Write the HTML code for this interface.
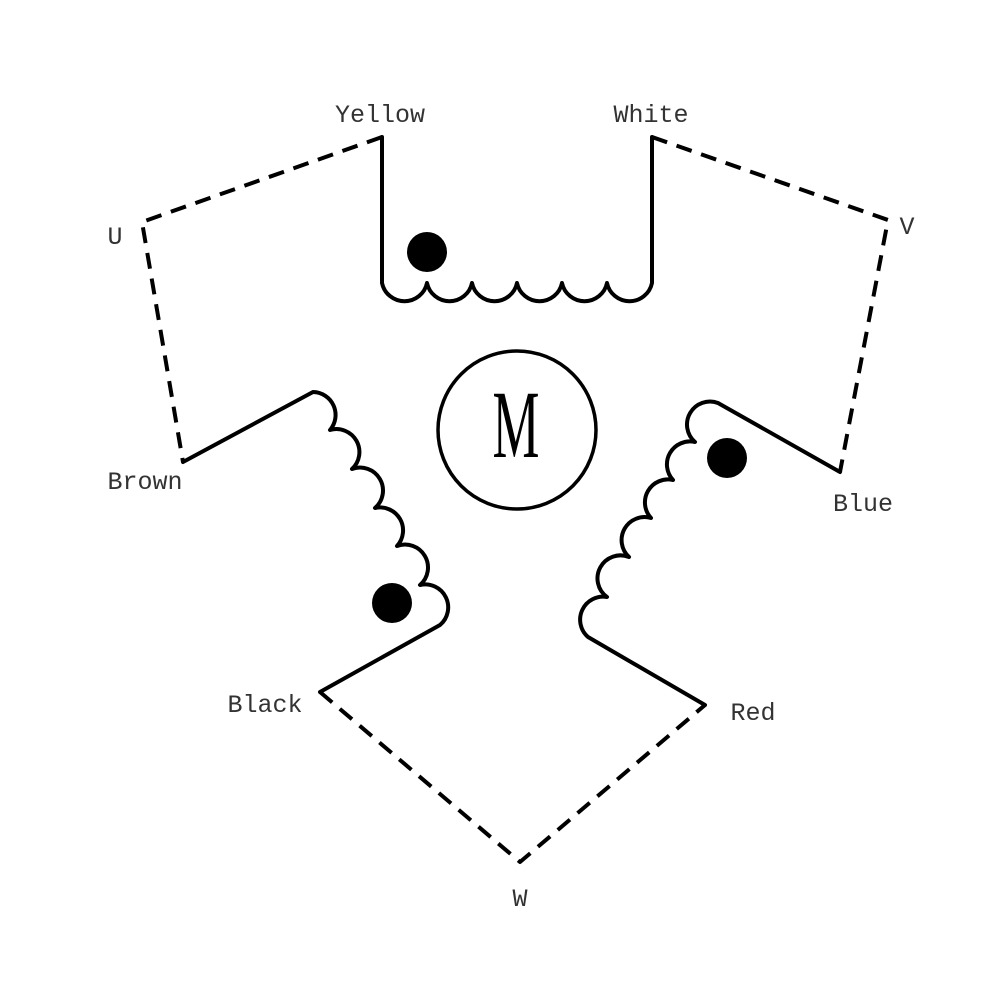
<!DOCTYPE html>
<html><head><style>html,body{margin:0;padding:0;background:#fff}svg{display:block}</style></head>
<body>
<svg width="1000" height="1000" viewBox="0 0 1000 1000" xmlns="http://www.w3.org/2000/svg">
<g fill="none" stroke="#000" stroke-width="4" stroke-linejoin="round" stroke-linecap="round">
<path d="M382,137 L382,283 A23,23 0 0 0 427,283 A23,23 0 0 0 472,283 A23,23 0 0 0 517,283 A23,23 0 0 0 562,283 A23,23 0 0 0 607,283 A23,23 0 0 0 652,283 L652,137"/>
<path d="M183,462 L313,392 A23,23 0 0 1 330,430 A23,23 0 0 1 352,469 A23,23 0 0 1 375,508 A23,23 0 0 1 397,546 A23,23 0 0 1 420,585 A23,23 0 0 1 440,625 L320,692"/>
<path d="M840,472 L718,403 A23,23 0 0 0 695,442 A23,23 0 0 0 673,480 A23,23 0 0 0 651,518 A23,23 0 0 0 629,557 A23,23 0 0 0 607,597 A23,23 0 0 0 588,637 L705,705"/>
<g stroke-dasharray="16 10" stroke-linecap="butt">
<path d="M382,137 L142,222 L183,462"/>
<path d="M652,137 L888,220 L840,472"/>
<path d="M320,692 L520,862 L705,705"/>
</g>
<circle cx="517" cy="430" r="79" stroke-width="3.5"/>
</g>
<g fill="#000">
<circle cx="427" cy="252" r="20"/>
<circle cx="392" cy="603" r="20"/>
<circle cx="727" cy="458" r="20"/>
</g>
<text transform="translate(516,457) scale(0.55,1)" font-family="Liberation Serif, serif" font-size="96" text-anchor="middle">M</text>
<g font-family="Liberation Mono, DejaVu Sans Mono, monospace" font-size="25" fill="#333" text-anchor="middle">
<text x="380" y="122">Yellow</text>
<text x="651" y="122">White</text>
<text x="115" y="244">U</text>
<text x="907" y="234">V</text>
<text x="145" y="489">Brown</text>
<text x="863" y="511">Blue</text>
<text x="265" y="712">Black</text>
<text x="753" y="720">Red</text>
<text x="520" y="906">W</text>
</g>
</svg>
</body></html>
